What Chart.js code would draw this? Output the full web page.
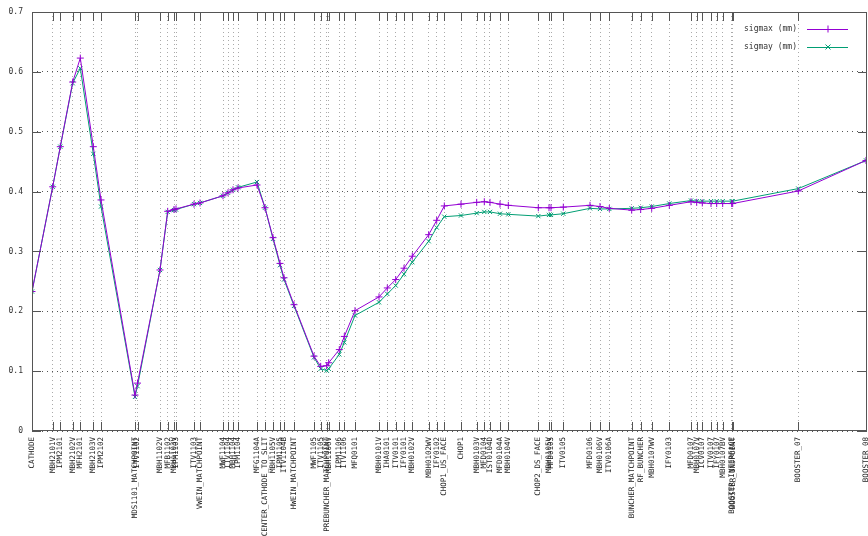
<!DOCTYPE html>
<html>
<head>
<meta charset="utf-8">
<script src="https://cdn.jsdelivr.net/npm/chart.js@4"></script>
<style>
  body { margin: 0; background: #fff; }
</style>
</head>
<body>
<canvas id="chart" width="868" height="536"></canvas>
<script>
'use strict';
// element names along the line, their positions and beam sizes
const elements = ['CATHODE', 'MBH2101V', 'IPM2101', 'MBH2102V', 'MFH2101', 'MBH2103V', 'IPM2102',
  'MDS1101_MATCHPOINT', 'ITV1102', 'MBH1102V', 'MFB1102', 'MBH1103V', 'IPM1103', 'ITV1103',
  'VWEIN_MATCHPOINT', 'MWF1104', 'ITV1104', 'MBH1104', 'IPM1104', 'MFG1104A', 'CENTER_CATHODE_TO_SLIT',
  'MBH1105V', 'IPM1105', 'ITV1104B', 'HWEIN_MATCHPOINT', 'MWF1105', 'ITV1105', 'PREBUNCHER_MATCHPOINT',
  'MBH1106V', 'IPM1106', 'ITV1106', 'MFQ0101', 'MBH0101V', 'IHA0101', 'ITV0101', 'IFY0101', 'MBH0102V',
  'MBH0102WV', 'IFY0102', 'CHOP1_US_FACE', 'CHOP1', 'MBH0103V', 'MFD0104', 'IST0104D', 'MFD0104A',
  'MBH0104V', 'CHOP2_DS_FACE', 'MBH0105V', 'MFD0105', 'ITV0105', 'MFD0106', 'MBH0106V', 'ITV0106A',
  'BUNCHER_MATCHPOINT', 'RF_BUNCHER', 'MBH0107WV', 'IFY0103', 'MFD0107', 'MBH0107V', 'ICV0107',
  'ITV0107', 'IFY0107', 'MBH0107BV', 'BOOSTER_INTERFACE', 'BOOSTER_INJPOINT', 'BOOSTER_07', 'BOOSTER_08'];
const positions = [32, 52.7, 60.3, 72.7, 80.3, 93.3, 101,
  135, 137.5, 160, 167.7, 174, 176, 194,
  200, 223, 228, 233, 238, 257, 265,
  273, 280, 284, 294, 314, 320.7, 326.7,
  328.7, 339.3, 344.3, 355, 379, 387.3, 395.7, 404, 412.3,
  428.7, 436.7, 444.3, 461, 476.7, 484.3, 490, 500,
  508.3, 538.3, 549, 551, 563.3, 590, 600, 609.3,
  631.7, 640.7, 651.7, 669.3, 691, 696.7, 702.3,
  711, 716.7, 722.7, 731.7, 732.7, 798.3, 866];
const sigmax = [0.233, 0.408, 0.475, 0.583, 0.623, 0.475, 0.386,
  0.060, 0.080, 0.269, 0.367, 0.370, 0.371, 0.379,
  0.381, 0.393, 0.398, 0.403, 0.406, 0.411, 0.373,
  0.323, 0.280, 0.256, 0.211, 0.125, 0.108, 0.109,
  0.114, 0.136, 0.158, 0.201, 0.224, 0.239, 0.253, 0.272, 0.292,
  0.328, 0.352, 0.376, 0.379, 0.382, 0.383, 0.382, 0.379,
  0.377, 0.373, 0.373, 0.373, 0.374, 0.377, 0.375, 0.372,
  0.369, 0.370, 0.372, 0.377, 0.383, 0.382, 0.381,
  0.380, 0.380, 0.380, 0.380, 0.380, 0.401, 0.452];
const sigmay = [0.233, 0.408, 0.475, 0.581, 0.606, 0.463, 0.375,
  0.057, 0.075, 0.269, 0.366, 0.369, 0.370, 0.379,
  0.381, 0.393, 0.398, 0.403, 0.407, 0.416, 0.373,
  0.321, 0.277, 0.253, 0.209, 0.123, 0.104, 0.101,
  0.104, 0.128, 0.148, 0.193, 0.215, 0.229, 0.243, 0.262, 0.282,
  0.317, 0.340, 0.358, 0.360, 0.364, 0.366, 0.366, 0.363,
  0.362, 0.359, 0.361, 0.361, 0.363, 0.372, 0.371, 0.371,
  0.372, 0.373, 0.375, 0.380, 0.385, 0.384, 0.384,
  0.384, 0.384, 0.384, 0.384, 0.384, 0.405, 0.452];
const yTicks = [0, 0.1, 0.2, 0.3, 0.4, 0.5, 0.6, 0.7];

const monoFont = 'DejaVu Sans Mono';

// gnuplot-ish frame, inward tick marks and key
const framePlugin = {
  id: 'frame',
  afterDraw(chart) {
    const ctx = chart.ctx;
    const a = chart.chartArea;
    const xs = chart.scales.x, ys = chart.scales.y;
    ctx.save();
    ctx.strokeStyle = '#555';
    ctx.lineWidth = 1;
    ctx.strokeRect(a.left + 0.5, a.top + 0.5, a.right - a.left - 1, a.bottom - a.top - 1);
    ctx.beginPath();
    positions.forEach(p => {
      const px = Math.round(xs.getPixelForValue(p)) + 0.5;
      ctx.moveTo(px, a.bottom); ctx.lineTo(px, a.bottom - 9);
      ctx.moveTo(px, a.top); ctx.lineTo(px, a.top + 9);
    });
    yTicks.forEach(v => {
      const py = Math.round(ys.getPixelForValue(v)) + 0.5;
      ctx.moveTo(a.left, py); ctx.lineTo(a.left + 9, py);
      ctx.moveTo(a.right, py); ctx.lineTo(a.right - 9, py);
    });
    ctx.stroke();

    // key
    ctx.font = '8px ' + monoFont;
    ctx.textAlign = 'right';
    ctx.textBaseline = 'middle';
    chart.data.datasets.forEach((ds, i) => {
      const y = 29 + i * 18;
      ctx.fillStyle = '#333';
      ctx.fillText(ds.label, 797, y);
      ctx.strokeStyle = ds.borderColor;
      ctx.beginPath();
      ctx.moveTo(807, y + 0.5); ctx.lineTo(848, y + 0.5);
      ctx.stroke();
      ctx.beginPath();
      if (i === 0) {
        ctx.moveTo(828, y - 3.5); ctx.lineTo(828, y + 3.5);
        ctx.moveTo(824.5, y + 0.5); ctx.lineTo(831.5, y + 0.5);
      } else {
        ctx.moveTo(825.5, y - 2.5); ctx.lineTo(830.5, y + 2.5);
        ctx.moveTo(825.5, y + 2.5); ctx.lineTo(830.5, y - 2.5);
      }
      ctx.stroke();
    });
    ctx.restore();
  }
};

function renderChart() {
  const canvasElem = document.getElementById('chart');
  const data = {
    datasets: [{
      label: 'sigmax (mm)',
      data: positions.map((p, i) => ({ x: p, y: sigmax[i] })),
      borderColor: '#9400d3',
      backgroundColor: '#9400d3',
      borderWidth: 1,
      pointStyle: 'cross',
      pointRadius: 3.5,
      pointBorderWidth: 1,
      tension: 0
    }, {
      label: 'sigmay (mm)',
      data: positions.map((p, i) => ({ x: p, y: sigmay[i] })),
      borderColor: '#009e73',
      backgroundColor: '#009e73',
      borderWidth: 1,
      pointStyle: 'crossRot',
      pointRadius: 3,
      pointBorderWidth: 1,
      tension: 0
    }]
  };
  const chartConfig = {
    type: 'line',
    data: data,
    plugins: [framePlugin],
    options: {
      responsive: false,
      animation: false,
      devicePixelRatio: 1,
      layout: { autoPadding: false, padding: { top: 12, right: 1, left: 0, bottom: 0 } },
      plugins: { legend: { display: false }, tooltip: { enabled: false } },
      scales: {
        x: {
          type: 'linear',
          min: 32,
          max: 867,
          afterBuildTicks: scale => { scale.ticks = positions.map(v => ({ value: v })); },
          afterFit: scale => {
            scale.height = 105;
            scale.paddingLeft = 0;
            scale.paddingRight = 0;
          },
          border: { display: false, dash: [1, 3] },
          grid: { color: '#aaa', drawTicks: false, lineWidth: 1 },
          ticks: {
            autoSkip: false,
            minRotation: 90,
            maxRotation: 90,
            padding: 6,
            color: '#222',
            font: { family: monoFont, size: 7.5 },
            callback: (value, index) => elements[index]
          }
        },
        y: {
          min: 0,
          max: 0.7,
          afterBuildTicks: scale => { scale.ticks = yTicks.map(v => ({ value: v })); },
          afterFit: scale => {
            scale.width = 32;
            scale.paddingTop = 0;
            scale.paddingBottom = 0;
          },
          border: { display: false, dash: [1, 4] },
          grid: { color: '#555', drawTicks: false, lineWidth: 1 },
          ticks: {
            padding: 9,
            color: '#333',
            font: { family: monoFont, size: 8 },
            callback: v => (v === 0 ? '0' : v.toFixed(1))
          }
        }
      }
    }
  };
  new Chart(canvasElem, chartConfig);
}
renderChart();
</script>
</body>
</html>
